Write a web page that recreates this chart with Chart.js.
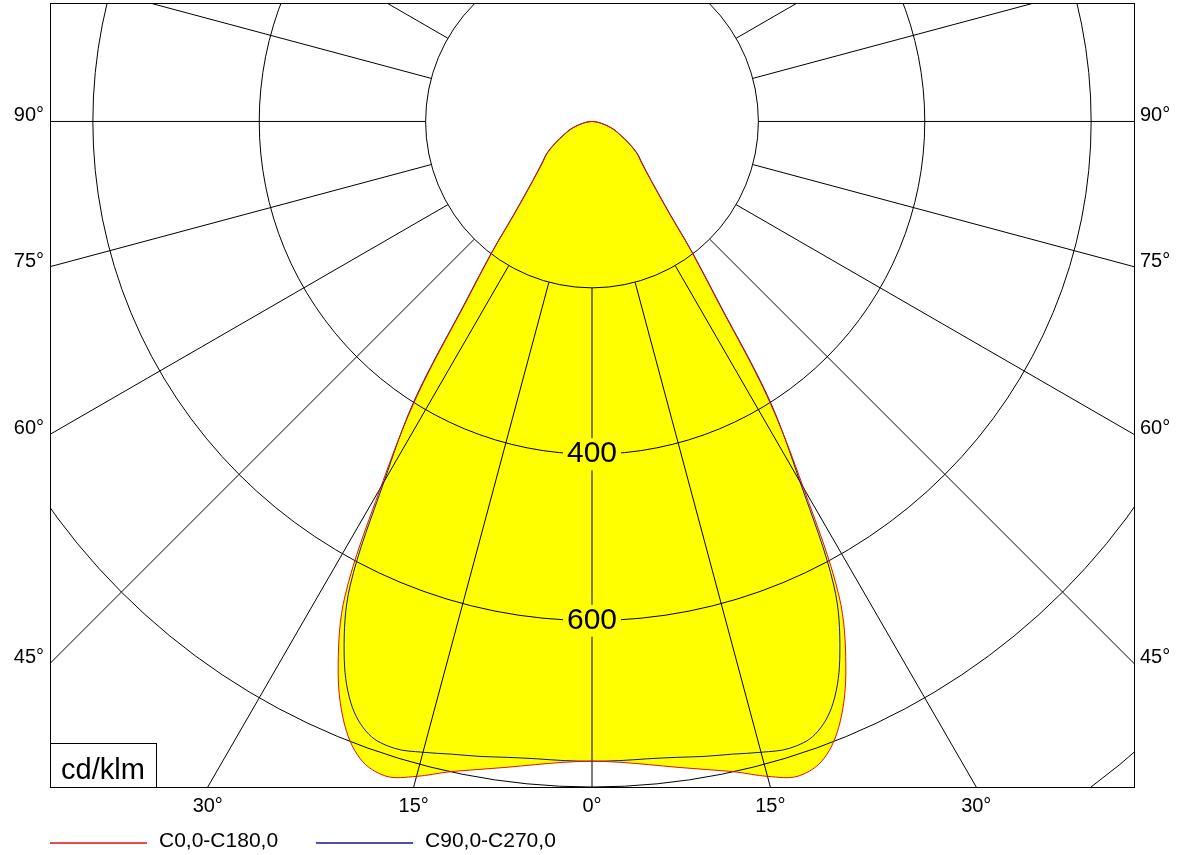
<!DOCTYPE html>
<html>
<head>
<meta charset="utf-8">
<script src="https://cdn.jsdelivr.net/npm/chart.js@4.4.1/dist/chart.umd.min.js"></script>
<style>
  html, body { margin: 0; padding: 0; background: #fff; }
  #wrap { width: 1184px; height: 855px; }
</style>
</head>
<body>
<div id="wrap"><canvas id="polar" width="1184" height="855"></canvas></div>
<script>
// gamma angles (deg from nadir) and intensities in cd/klm
const ANGLES = [0, 2.5, 5, 7.5, 10, 12.5, 15, 17.5, 20, 22.5, 25, 27.5, 30, 32.5, 35, 37.5, 40, 45, 50, 55, 60, 65, 70, 75, 80, 85, 90];
const C0_C180 = [769, 771, 776, 783, 791, 801, 815, 825, 815, 780, 722, 643, 508, 392, 262, 195, 145, 100, 78, 65, 49, 36, 27, 17, 9, 4, 0];
const C90_C270 = [769, 769, 769, 771, 775, 779, 785, 790, 784, 757, 705, 630, 500, 397, 266, 197, 147, 101, 79, 66, 50, 37, 28, 18, 10, 4, 0];

const SERIES_LABELS = ['C0,0-C180,0', 'C90,0-C270,0'];
const SERIES_COLORS = ['#e01010', '#14148c'];
const FILL = '#ffff00';

const RINGS = [200, 400, 600, 800, 1000];
const RING_LABELS = [400, 600];
const RAY_STEP = 15;
const SIDE_TICKS = [90, 75, 60, 45];
const BOTTOM_TICKS = [-30, -15, 0, 15, 30];
const UNIT = 'cd/klm';

const FONT = '"Liberation Sans", Arial, sans-serif';

function polar(deg, v) {
  const t = deg * Math.PI / 180;
  return { x: v * Math.sin(t), y: -v * Math.cos(t) };
}

// closed outline: C180/C270 half on the left, C0/C90 half on the right
function toPoints(values) {
  const pts = [];
  for (let i = ANGLES.length - 1; i >= 0; i--) pts.push(polar(-ANGLES[i], values[i]));
  for (let i = 1; i < ANGLES.length; i++) pts.push(polar(ANGLES[i], values[i]));
  return pts;
}

function makeDataset(label, values, color) {
  return {
    label,
    data: toPoints(values),
    showLine: true,
    fill: 'shape',
    backgroundColor: FILL,
    borderColor: color,
    borderWidth: 1,
    pointRadius: 0,
    pointHoverRadius: 0,
    tension: 0.35
  };
}

const polarGrid = {
  id: 'polarGrid',
  beforeDatasetsDraw(chart) {
    const { ctx, chartArea: a, scales: { x, y } } = chart;
    const cx = x.getPixelForValue(0);
    const cy = y.getPixelForValue(0);
    const rad = v => x.getPixelForValue(v) - cx;

    ctx.save();
    ctx.beginPath();
    ctx.rect(a.left, a.top, a.right - a.left, a.bottom - a.top);
    ctx.clip();
    ctx.strokeStyle = '#000';
    ctx.lineWidth = 1;

    RINGS.forEach(v => {
      ctx.beginPath();
      ctx.arc(cx, cy, rad(v), 0, Math.PI * 2);
      ctx.stroke();
    });

    const r0 = rad(RINGS[0]);
    const r1 = rad(RINGS[RINGS.length - 1]) * 2;
    for (let d = -180; d < 180; d += RAY_STEP) {
      const t = d * Math.PI / 180;
      const sx = Math.sin(t), sy = Math.cos(t);
      ctx.beginPath();
      ctx.moveTo(cx + r0 * sx, cy + r0 * sy);
      ctx.lineTo(cx + r1 * sx, cy + r1 * sy);
      ctx.stroke();
    }

    ctx.font = '30px ' + FONT;
    ctx.textAlign = 'center';
    ctx.textBaseline = 'middle';
    RING_LABELS.forEach(v => {
      const ly = y.getPixelForValue(-v);
      const w = ctx.measureText(String(v)).width + 8;
      ctx.fillStyle = FILL;
      ctx.fillRect(cx - w / 2, ly - 16, w, 32);
      ctx.fillStyle = '#000';
      ctx.fillText(String(v), cx, ly);
    });
    ctx.restore();
  },
  afterDraw(chart) {
    const { ctx, chartArea: a, scales: { x, y } } = chart;
    ctx.save();

    // frame
    ctx.strokeStyle = '#000';
    ctx.lineWidth = 1;
    ctx.strokeRect(Math.round(a.left) + 0.5, Math.round(a.top) + 0.5,
      Math.round(a.right - a.left), Math.round(a.bottom - a.top));

    // unit box
    ctx.fillStyle = '#fff';
    ctx.fillRect(a.left, a.bottom - 44, 106, 44);
    ctx.strokeRect(Math.round(a.left) + 0.5, Math.round(a.bottom - 44) + 0.5, 106, 44);
    ctx.fillStyle = '#000';
    ctx.font = '29px ' + FONT;
    ctx.textAlign = 'left';
    ctx.textBaseline = 'alphabetic';
    ctx.fillText(UNIT, a.left + 11, a.bottom - 8);

    // angle labels where the rays leave the frame
    ctx.font = '20px ' + FONT;
    SIDE_TICKS.forEach(d => {
      const t = d * Math.PI / 180;
      const ly = y.getPixelForValue(x.min * Math.cos(t) / Math.sin(t));
      ctx.textAlign = 'right';
      ctx.fillText(d + '°', a.left - 6, ly);
      ctx.textAlign = 'left';
      ctx.fillText(d + '°', a.right + 6, ly);
    });
    ctx.textAlign = 'center';
    BOTTOM_TICKS.forEach(d => {
      const t = d * Math.PI / 180;
      const lx = x.getPixelForValue(-y.min * Math.tan(t));
      ctx.fillText(Math.abs(d) + '°', lx, a.bottom + 25);
    });

    // legend
    ctx.font = '21px ' + FONT;
    ctx.textAlign = 'left';
    ctx.lineWidth = 1.5;
    const lineY = Math.round(a.bottom + 56);
    let lx = a.left;
    SERIES_LABELS.forEach((label, i) => {
      ctx.strokeStyle = SERIES_COLORS[i];
      ctx.beginPath();
      ctx.moveTo(lx, lineY);
      ctx.lineTo(lx + 97, lineY);
      ctx.stroke();
      ctx.fillStyle = '#000';
      ctx.fillText(label, lx + 109, lineY + 4);
      lx += 109 + ctx.measureText(label).width + 38;
    });
    ctx.restore();
  }
};

new Chart(document.getElementById('polar'), {
  type: 'scatter',
  data: {
    datasets: [
      makeDataset(SERIES_LABELS[0], C0_C180, SERIES_COLORS[0]),
      makeDataset(SERIES_LABELS[1], C90_C270, SERIES_COLORS[1])
    ]
  },
  options: {
    responsive: false,
    animation: false,
    devicePixelRatio: 1,
    layout: { padding: { left: 50, top: 3, right: 50, bottom: 68 } },
    scales: {
      x: { type: 'linear', display: false, min: -651.5, max: 651.5 },
      y: { type: 'linear', display: false, min: -800, max: 142.4 }
    },
    plugins: {
      legend: { display: false },
      tooltip: { enabled: false },
      filler: { drawTime: 'beforeDatasetsDraw' }
    }
  },
  plugins: [polarGrid]
});
</script>
</body>
</html>
